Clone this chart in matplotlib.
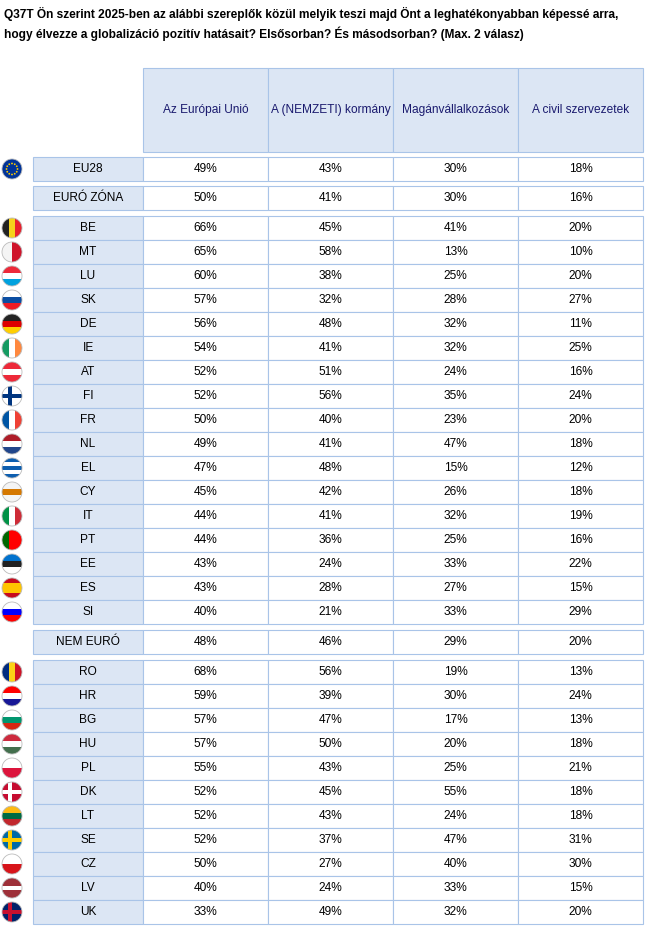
import matplotlib.pyplot as plt
from matplotlib.patches import Rectangle, Circle
import numpy as np

title = ("Q37T Ön szerint 2025-ben az alábbi szereplők közül melyik teszi majd Önt a leghatékonyabban képessé arra,\n"
         "hogy élvezze a globalizáció pozitív hatásait? Elsősorban? És másodsorban? (Max. 2 válasz)")
columns = ["Az Európai Unió", "A (NEMZETI) kormány", "Magánvállalkozások", "A civil szervezetek"]

eu_row = ("EU28", [49, 43, 30, 18])
euro_row = ("EURÓ ZÓNA", [50, 41, 30, 16])
euro_countries = ["BE", "MT", "LU", "SK", "DE", "IE", "AT", "FI", "FR", "NL", "EL", "CY", "IT", "PT", "EE", "ES", "SI"]
euro_values = [
    [66, 45, 41, 20], [65, 58, 13, 10], [60, 38, 25, 20], [57, 32, 28, 27], [56, 48, 32, 11],
    [54, 41, 32, 25], [52, 51, 24, 16], [52, 56, 35, 24], [50, 40, 23, 20], [49, 41, 47, 18],
    [47, 48, 15, 12], [45, 42, 26, 18], [44, 41, 32, 19], [44, 36, 25, 16], [43, 24, 33, 22],
    [43, 28, 27, 15], [40, 21, 33, 29],
]
noneuro_row = ("NEM EURÓ", [48, 46, 29, 20])
noneuro_countries = ["RO", "HR", "BG", "HU", "PL", "DK", "LT", "SE", "CZ", "LV", "UK"]
noneuro_values = [
    [68, 56, 19, 13], [59, 39, 30, 24], [57, 47, 17, 13], [57, 50, 20, 18], [55, 43, 25, 21],
    [52, 45, 55, 18], [52, 43, 24, 18], [52, 37, 47, 31], [50, 27, 40, 30], [40, 24, 33, 15],
    [33, 49, 32, 20],
]

# simple flag sketches: (kind, colours)
flags = {
    "BE": ("v", ["#222222", "#f5d31c", "#e8212e"]), "MT": ("v", ["#f4f4f4", "#cf142b"]),
    "LU": ("h", ["#ed2939", "#ffffff", "#00a1de"]), "SK": ("h", ["#ffffff", "#0b4ea2", "#ee1c25"]),
    "DE": ("h", ["#222222", "#dd0000", "#ffce00"]), "IE": ("v", ["#169b62", "#ffffff", "#ff883e"]),
    "AT": ("h", ["#ed2939", "#ffffff", "#ed2939"]), "FI": ("cross", ["#ffffff", "#003580"]),
    "FR": ("v", ["#0055a4", "#ffffff", "#ef4135"]), "NL": ("h", ["#ae1c28", "#ffffff", "#21468b"]),
    "EL": ("h", ["#0d5eaf", "#ffffff", "#0d5eaf", "#ffffff", "#0d5eaf"]), "CY": ("h", ["#f4f4f4", "#d57800", "#f4f4f4"]),
    "IT": ("v", ["#009246", "#ffffff", "#ce2b37"]), "PT": ("v", ["#006600", "#ff0000", "#ff0000"]),
    "EE": ("h", ["#0072ce", "#222222", "#ffffff"]), "ES": ("h", ["#c60b1e", "#ffc400", "#ffc400", "#c60b1e"]),
    "SI": ("h", ["#ffffff", "#0000ff", "#ff0000"]), "RO": ("v", ["#002b7f", "#fcd116", "#ce1126"]),
    "HR": ("h", ["#ff0000", "#ffffff", "#171796"]), "BG": ("h", ["#ffffff", "#00966e", "#d62612"]),
    "HU": ("h", ["#cd2a3e", "#ffffff", "#436f4d"]), "PL": ("h", ["#ffffff", "#dc143c"]),
    "DK": ("cross", ["#c60c30", "#ffffff"]), "LT": ("h", ["#fdb913", "#006a44", "#c1272d"]),
    "SE": ("cross", ["#006aa7", "#fecc00"]), "CZ": ("h", ["#ffffff", "#d7141a"]),
    "LV": ("h", ["#9e3039", "#9e3039", "#ffffff", "#9e3039", "#9e3039"]), "UK": ("cross", ["#012169", "#c8102e"]),
}

W, H = 657, 931
fig = plt.figure(figsize=(W / 100, H / 100), dpi=100)
ax = fig.add_axes([0, 0, 1, 1])
ax.set_xlim(0, W)
ax.set_ylim(H, 0)
ax.axis("off")

light = "#dce6f4"
border = "#a9c4e8"
font = "Liberation Sans"
col_x = [143, 268, 393, 518, 643]
lab_x0 = 33

ax.text(4, 7, title, fontsize=8.6, fontweight="bold", va="top", ha="left", family=font, linespacing=1.5)

# header
for i, name in enumerate(columns):
    ax.add_patch(Rectangle((col_x[i], 68), 125, 84, facecolor=light, edgecolor=border, lw=0.8))
    ax.text(col_x[i] + 62.5, 110, name, fontsize=8.6, ha="center", va="center", color="#1a1a6e", family=font)


def draw_flag(cx, cy, code):
    r = 10
    clip = Circle((cx, cy), r, transform=ax.transData)
    arts = []
    if code == "EU":
        arts.append(Rectangle((cx - r, cy - r), 2 * r, 2 * r, facecolor="#003399", lw=0))
        for a in np.linspace(0, 2 * np.pi, 12, endpoint=False):
            arts.append(Circle((cx + 5.5 * np.cos(a), cy + 5.5 * np.sin(a)), 0.9, facecolor="#ffcc00", lw=0))
    else:
        kind, cols = flags[code]
        if kind == "cross":
            arts.append(Rectangle((cx - r, cy - r), 2 * r, 2 * r, facecolor=cols[0], lw=0))
            arts.append(Rectangle((cx - r, cy - 2), 2 * r, 4, facecolor=cols[1], lw=0))
            arts.append(Rectangle((cx - 4, cy - r), 4, 2 * r, facecolor=cols[1], lw=0))
        else:
            n = len(cols)
            s = 2 * r / n
            for k, c in enumerate(cols):
                if kind == "h":
                    arts.append(Rectangle((cx - r, cy - r + k * s), 2 * r, s, facecolor=c, lw=0))
                else:
                    arts.append(Rectangle((cx - r + k * s, cy - r), s, 2 * r, facecolor=c, lw=0))
    for a in arts:
        ax.add_patch(a)
        a.set_clip_path(clip)
    ax.add_patch(Circle((cx, cy), r, facecolor="none", edgecolor="#bbbbbb", lw=0.6))


def draw_row(yc, label, vals, code=None):
    h = 24
    ax.add_patch(Rectangle((lab_x0, yc - h / 2), col_x[0] - lab_x0, h, facecolor=light, edgecolor=border, lw=0.8))
    ax.text((lab_x0 + col_x[0]) / 2, yc, label, fontsize=8.6, ha="center", va="center", family=font)
    for i, v in enumerate(vals):
        ax.add_patch(Rectangle((col_x[i], yc - h / 2), 125, h, facecolor="white", edgecolor=border, lw=0.8))
        ax.text(col_x[i] + 62.5, yc, f"{v}%", fontsize=8.6, ha="center", va="center", family=font)
    if code:
        draw_flag(12, yc, code)


draw_row(169, eu_row[0], eu_row[1], "EU")
draw_row(198, euro_row[0], euro_row[1])
for k, (c, v) in enumerate(zip(euro_countries, euro_values)):
    draw_row(228 + 24 * k, c, v, c)
draw_row(642, noneuro_row[0], noneuro_row[1])
for k, (c, v) in enumerate(zip(noneuro_countries, noneuro_values)):
    draw_row(672 + 24 * k, c, v, c)

fig.savefig("out.png", dpi=100)
